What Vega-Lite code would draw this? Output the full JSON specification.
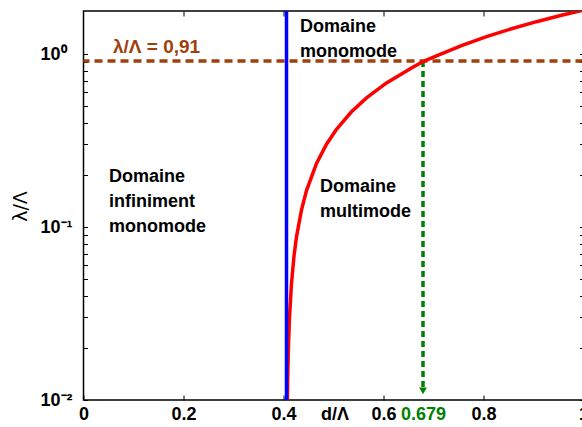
{
  "$schema": "https://vega.github.io/schema/vega-lite/v6.json",
  "width": 500,
  "height": 389,
  "autosize": "none",
  "padding": {"left": 83.5, "top": 11, "right": 0, "bottom": 27},
  "background": "white",
  "config": {
    "view": {"stroke": "black", "strokeWidth": 1.5},
    "font": "Liberation Sans",
    "axis": {"grid": false, "domain": false, "tickColor": "black", "tickWidth": 1, "labelColor": "black", "labelFont": "Liberation Sans", "labelFontWeight": "bold", "labelFontSize": 18, "labelFlush": false, "labelOverlap": false}
  },
  "datasets": {
    "curve": [
      {"d": 0.40775, "r": 0.01},
      {"d": 0.4085, "r": 0.01378},
      {"d": 0.410, "r": 0.02094},
      {"d": 0.412, "r": 0.03004},
      {"d": 0.416, "r": 0.0473},
      {"d": 0.421, "r": 0.0679},
      {"d": 0.426, "r": 0.0877},
      {"d": 0.436, "r": 0.1257},
      {"d": 0.446, "r": 0.1624},
      {"d": 0.466, "r": 0.2330},
      {"d": 0.486, "r": 0.3011},
      {"d": 0.506, "r": 0.3671},
      {"d": 0.536, "r": 0.4636},
      {"d": 0.566, "r": 0.5578},
      {"d": 0.606, "r": 0.6806},
      {"d": 0.656, "r": 0.830},
      {"d": 0.679, "r": 0.905},
      {"d": 0.706, "r": 0.976},
      {"d": 0.756, "r": 1.1195},
      {"d": 0.806, "r": 1.261},
      {"d": 0.856, "r": 1.400},
      {"d": 0.906, "r": 1.538},
      {"d": 0.956, "r": 1.674},
      {"d": 1.0, "r": 1.793}
    ],
    "limit": [{"d": 0.406}],
    "level": [{"r": 0.91}],
    "cut": [{"d": 0.679, "r": 0.91, "r2": 0.0118, "ra": 0.01128}],
    "brownLabel": [{"x": 0.059, "y": 1.01, "label": "λ/Λ = 0,91"}],
    "notes": [
      {"x": 0.433, "y": 1.34, "label": "Domaine\nmonomode"},
      {"x": 0.051, "y": 0.182, "label": "Domaine\ninfiniment\nmonomode"},
      {"x": 0.473, "y": 0.159, "label": "Domaine\nmultimode"}
    ]
  },
  "layer": [
    {
      "data": {"name": "level"},
      "mark": {"type": "rule", "color": "#a0400d", "strokeWidth": 3.5, "strokeDash": [8, 5]},
      "encoding": {
        "y": {"field": "r", "type": "quantitative", "scale": {"type": "log", "domain": [0.01, 1.773], "nice": false},
          "axis": {"orient": "right", "values": [0.01,0.02,0.03,0.04,0.05,0.06,0.07,0.08,0.09,0.1,0.2,0.3,0.4,0.5,0.6,0.7,0.8,0.9,1], "labels": false, "title": null, "tickSize": -4}}
      }
    },
    {
      "data": {"name": "cut"},
      "mark": {"type": "rule", "color": "#008000", "strokeWidth": 3.5, "strokeDash": [6, 4]},
      "encoding": {
        "x": {"field": "d", "type": "quantitative", "axis": null},
        "y": {"field": "r", "type": "quantitative", "axis": null},
        "y2": {"field": "r2"}
      }
    },
    {
      "data": {"name": "cut"},
      "mark": {"type": "point", "shape": "triangle-down", "filled": true, "color": "#008000", "size": 60, "opacity": 1},
      "encoding": {
        "x": {"field": "d", "type": "quantitative", "axis": null},
        "y": {"field": "ra", "type": "quantitative", "axis": null}
      }
    },
    {
      "data": {"name": "curve"},
      "mark": {"type": "line", "color": "#ff0000", "strokeWidth": 3.5, "clip": true},
      "encoding": {
        "x": {"field": "d", "type": "quantitative", "scale": {"domain": [0, 1], "nice": false},
          "axis": {"orient": "bottom", "values": [0, 0.2, 0.4, 0.6, 0.679, 0.8, 1], "format": ".3~g",
            "tickSize": -5, "labelPadding": 10,
            "labelColor": {"condition": {"test": "datum.value == 0.679", "value": "#008000"}, "value": "black"},
            "tickOpacity": {"condition": {"test": "datum.value == 0.679", "value": 0}, "value": 1},
            "title": "d/Λ", "titleFont": "Liberation Sans", "titleFontWeight": "bold", "titleFontSize": 18,
            "titleX": 251, "titleY": 5, "titleAlign": "center", "titleBaseline": "top", "titleAngle": 0}},
        "y": {"field": "r", "type": "quantitative", "scale": {"type": "log", "domain": [0.01, 1.773], "nice": false},
          "axis": {"orient": "left", "values": [0.01,0.02,0.03,0.04,0.05,0.06,0.07,0.08,0.09,0.1,0.2,0.3,0.4,0.5,0.6,0.7,0.8,0.9,1],
            "labelExpr": "datum.value == 1 ? '10⁰' : datum.value == 0.1 ? '10⁻¹' : datum.value == 0.01 ? '10⁻²' : ''",
            "tickSize": -4, "labelPadding": 47.5, "labelAlign": "left",
            "title": "λ/Λ", "titleFont": "DejaVu Sans", "titleFontWeight": "normal", "titleFontSize": 19,
            "titleX": -63.5, "titleY": 195, "titleAngle": -90, "titleAlign": "center", "titleBaseline": "middle"}}
      }
    },
    {
      "data": {"name": "limit"},
      "mark": {"type": "rule", "color": "#0000ff", "strokeWidth": 3.5},
      "encoding": {
        "x": {"field": "d", "type": "quantitative",
          "axis": {"orient": "top", "values": [0.2, 0.4, 0.6, 0.8], "labels": false, "title": null, "tickSize": -5}}
      }
    },
    {
      "data": {"name": "brownLabel"},
      "mark": {"type": "text", "color": "#a0400d", "fontSize": 19, "fontWeight": "bold", "font": "Liberation Sans", "align": "left", "baseline": "alphabetic"},
      "encoding": {
        "x": {"field": "x", "type": "quantitative", "axis": null},
        "y": {"field": "y", "type": "quantitative", "axis": null},
        "text": {"field": "label"}
      }
    },
    {
      "data": {"name": "notes"},
      "mark": {"type": "text", "color": "black", "fontSize": 18, "fontWeight": "bold", "font": "Liberation Sans", "align": "left", "baseline": "alphabetic", "lineBreak": "\n", "lineHeight": 25},
      "encoding": {
        "x": {"field": "x", "type": "quantitative", "axis": null},
        "y": {"field": "y", "type": "quantitative", "axis": null},
        "text": {"field": "label"}
      }
    }
  ],
  "resolve": {"axis": {"x": "independent", "y": "independent"}}
}
